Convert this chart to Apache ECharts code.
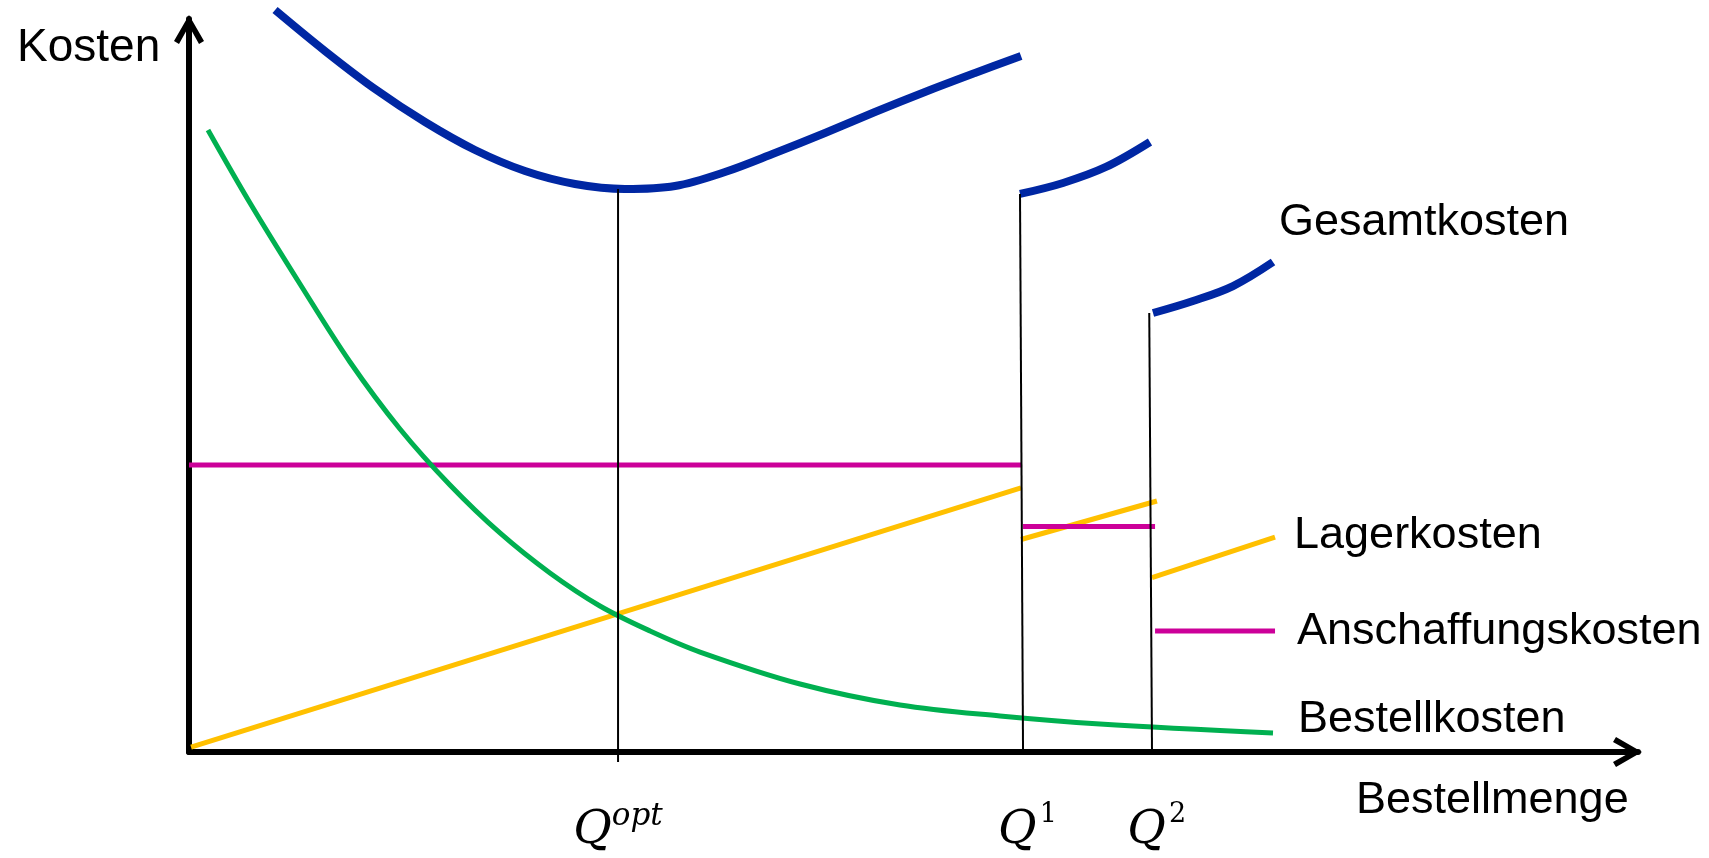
<!DOCTYPE html>
<html>
<head>
<meta charset="utf-8">
<script src="https://cdn.jsdelivr.net/npm/echarts@6/dist/echarts.min.js"></script>
<style>
html,body{margin:0;padding:0;background:#fff;}
#chart{width:1709px;height:858px;}
</style>
</head>
<body>
<div id="chart"></div>
<script>
// ---- data (x: Bestellmenge, y: Kosten; abstract units 0..100) ----
const qTicks = [29.61, 57.45, 66.37];
const qSup = ['opt', '1', '2'];

const gesamtSeg1 = [[5.94,101.23],[9.39,95.63],[12.84,90.45],[16.29,85.95],[19.74,82.13],[23.19,79.26],[26.64,77.49],[30.09,76.81],[33.54,77.22],[36.99,79.13],[40.44,81.72],[43.89,84.45],[47.34,87.31],[50.79,90.04],[54.24,92.63],[57.42,94.95]];
const gesamtSeg2 = [[57.35,76.13],[60.32,77.63],[63.28,79.81],[66.32,83.22]];
const gesamtSeg3 = [[66.53,59.89],[69.29,61.53],[72.05,63.57],[74.81,66.85]];

const bestell = [[1.31,84.86],[4.21,74.90],[7.66,63.85],[11.11,53.21],[14.56,44.07],[18.01,36.43],[21.46,29.88],[24.91,24.42],[28.36,19.92],[31.82,16.51],[35.27,13.64],[42.17,9.28],[49.07,6.41],[55.97,4.91],[62.87,3.82],[74.81,2.59]];

const anschSeg1 = [[0,39.15],[57.49,39.15]];
const anschSeg2 = [[57.56,30.76],[66.67,30.76]];
const anschSeg3 = [[66.67,16.51],[74.95,16.51]];

const lagerSeg1 = [[0.14,0.68],[57.42,36.02]];
const lagerSeg2 = [[57.42,28.99],[66.80,34.24]];
const lagerSeg3 = [[66.46,23.78],[74.95,29.33]];

const vQopt = [[29.61,-1.36],[29.61,76.81]];
const vQ1 = [[57.35,76.13],[57.56,0]];
const vQ2 = [[66.27,59.89],[66.46,0]];

const names = ['Gesamtkosten','Bestellkosten','Anschaffungskosten','Lagerkosten'];
const axisTitles = ['Kosten','Bestellmenge'];

// ---- styling ----
const C_BLUE = '#0027A3', C_GREEN = '#00B050', C_MAG = '#CC0099', C_YEL = '#FFC000';
const SANS = 'Liberation Sans, Arial, Helvetica, sans-serif';
const chevron = 'path://M15 0 L30 26 L25 29 L15 11 L5 29 L0 26 Z';

function segSeries(name, segs, color, width, smooth, labelOffset) {
  return segs.map(function (d, i) {
    const s = {
      type: 'line', name: name, data: d, smooth: smooth,
      symbol: 'none', showSymbol: false,
      clip: false, z: 2, silent: true,
      lineStyle: { color: color, width: width, cap: 'butt', join: 'round' }
    };
    if (i === segs.length - 1) {
      s.endLabel = {
        show: true, formatter: name, distance: 0, offset: labelOffset,
        color: '#000', fontSize: 45, fontFamily: SANS
      };
    }
    return s;
  });
}

function vSeries(d) {
  return { type: 'line', data: d, symbol: 'none', showSymbol: false, clip: false, z: 3, silent: true,
    lineStyle: { color: '#000', width: 2 } };
}

const axisLineCommon = {
  show: true, onZero: true,
  lineStyle: { color: '#000', width: 6 },
  symbol: ['none', chevron], symbolSize: [30, 29], symbolOffset: [0, -10.5]
};

const option = {
  animation: false,
  backgroundColor: '#fff',
  grid: { left: 189, right: 71, top: 19, bottom: 106, containLabel: false },
  xAxis: {
    type: 'value', min: 0, max: 100,
    axisLine: axisLineCommon,
    axisTick: { show: false },
    splitLine: { show: false },
    axisLabel: {
      show: true, margin: 49, customValues: qTicks,
      formatter: function (v) {
        let idx = 0, best = 1e9;
        qTicks.forEach(function (t, i) { if (Math.abs(t - v) < best) { best = Math.abs(t - v); idx = i; } });
        return idx === 0 ? '{q|Q}{s|' + qSup[idx] + '}' : '{q2|Q}{d|' + qSup[idx] + '}';
      },
      rich: {
        q: { fontFamily: 'DejaVu Serif', fontStyle: 'italic', fontSize: 47, lineHeight: 60, color: '#000' },
        q2: { fontFamily: 'DejaVu Serif', fontStyle: 'italic', fontSize: 47, lineHeight: 60, color: '#000', padding: [0,0,0,12] },
        s: { fontFamily: 'DejaVu Serif', fontStyle: 'italic', fontSize: 31, lineHeight: 40, verticalAlign: 'top', color: '#000' },
        d: { fontFamily: 'DejaVu Serif', fontSize: 27, lineHeight: 40, verticalAlign: 'top', color: '#000', padding: [0,0,0,3] }
      }
    }
  },
  yAxis: {
    type: 'value', min: 0, max: 100,
    axisLine: axisLineCommon,
    axisTick: { show: false },
    splitLine: { show: false },
    axisLabel: { show: false }
  },
  graphic: [
    { type: 'text', x: 17, y: 48.5, silent: true,
      style: { text: axisTitles[0], fontSize: 46, fontFamily: SANS, fill: '#000', align: 'left', verticalAlign: 'middle' } },
    { type: 'text', x: 1356, y: 801, silent: true,
      style: { text: axisTitles[1], fontSize: 45, fontFamily: SANS, fill: '#000', align: 'left', verticalAlign: 'middle' } }
  ],
  series: [].concat(
    segSeries(names[3], [lagerSeg1, lagerSeg2, lagerSeg3], C_YEL, 5, false, [19, -1]),
    segSeries(names[2], [anschSeg1, anschSeg2, anschSeg3], C_MAG, 5, false, [22, 1]),
    segSeries(names[1], [bestell], C_GREEN, 5, 0.35, [25, -13]),
    segSeries(names[0], [gesamtSeg1, gesamtSeg2, gesamtSeg3], C_BLUE, 8, 0.35, [6, -39]),
    [vSeries(vQopt), vSeries(vQ1), vSeries(vQ2)]
  )
};

const chart = echarts.init(document.getElementById('chart'), null, { renderer: 'canvas' });
chart.setOption(option);
</script>
</body>
</html>
